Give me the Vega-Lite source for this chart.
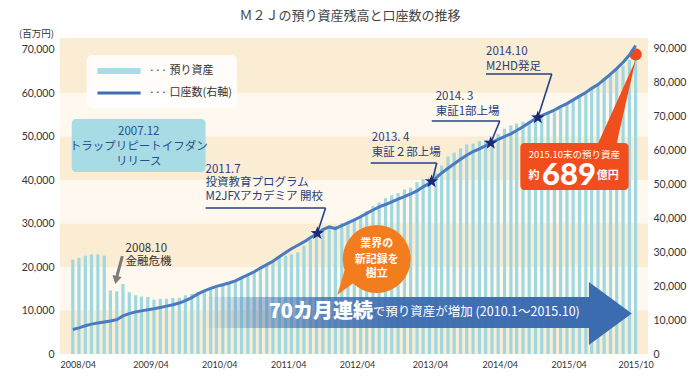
{
  "$schema": "https://vega.github.io/schema/vega-lite/v6.json",
  "width": 588,
  "height": 316,
  "autosize": {"type": "none"},
  "padding": {"left": 60, "top": 38, "right": 52, "bottom": 22},
  "background": "#ffffff",
  "title": {"text": "Ｍ２Ｊの預り資産残高と口座数の推移", "fontSize": 13, "fontWeight": "normal", "color": "#444444", "font": "Noto Sans CJK JP", "anchor": "middle", "offset": 5, "dx": -4},
  "config": {"view": {"stroke": null, "fill": "#fef8ee"}, "font": "Noto Sans CJK JP"},
  "datasets": {
    "monthly": [
      {"date":"2008/04/01","assets":21700,"accounts":7200},
      {"date":"2008/05/01","assets":22100,"accounts":7700},
      {"date":"2008/06/01","assets":22600,"accounts":8300},
      {"date":"2008/07/01","assets":22900,"accounts":8800},
      {"date":"2008/08/01","assets":22900,"accounts":9100},
      {"date":"2008/09/01","assets":22600,"accounts":9400},
      {"date":"2008/10/01","assets":14600,"accounts":9700},
      {"date":"2008/11/01","assets":14400,"accounts":10100},
      {"date":"2008/12/01","assets":16100,"accounts":11200},
      {"date":"2009/01/01","assets":14200,"accounts":11900},
      {"date":"2009/02/01","assets":13500,"accounts":12400},
      {"date":"2009/03/01","assets":13200,"accounts":12700},
      {"date":"2009/04/01","assets":13100,"accounts":13000},
      {"date":"2009/05/01","assets":12500,"accounts":13300},
      {"date":"2009/06/01","assets":12700,"accounts":13700},
      {"date":"2009/07/01","assets":12700,"accounts":14100},
      {"date":"2009/08/01","assets":12900,"accounts":14500},
      {"date":"2009/09/01","assets":12900,"accounts":15000},
      {"date":"2009/10/01","assets":13500,"accounts":15700},
      {"date":"2009/11/01","assets":13800,"accounts":16600},
      {"date":"2009/12/01","assets":14200,"accounts":17700},
      {"date":"2010/01/01","assets":14600,"accounts":18600},
      {"date":"2010/02/01","assets":15000,"accounts":19300},
      {"date":"2010/03/01","assets":15200,"accounts":19900},
      {"date":"2010/04/01","assets":15700,"accounts":20400},
      {"date":"2010/05/01","assets":16100,"accounts":20900},
      {"date":"2010/06/01","assets":16500,"accounts":21500},
      {"date":"2010/07/01","assets":17300,"accounts":22400},
      {"date":"2010/08/01","assets":17800,"accounts":23300},
      {"date":"2010/09/01","assets":18800,"accounts":24200},
      {"date":"2010/10/01","assets":19600,"accounts":25300},
      {"date":"2010/11/01","assets":20700,"accounts":26300},
      {"date":"2010/12/01","assets":21500,"accounts":27300},
      {"date":"2011/01/01","assets":22400,"accounts":28600},
      {"date":"2011/02/01","assets":22600,"accounts":29900},
      {"date":"2011/03/01","assets":22900,"accounts":31000},
      {"date":"2011/04/01","assets":23400,"accounts":32000},
      {"date":"2011/05/01","assets":24900,"accounts":33000},
      {"date":"2011/06/01","assets":26300,"accounts":34200},
      {"date":"2011/07/01","assets":27200,"accounts":35300},
      {"date":"2011/08/01","assets":28400,"accounts":36600},
      {"date":"2011/09/01","assets":29000,"accounts":37400},
      {"date":"2011/10/01","assets":29500,"accounts":36900},
      {"date":"2011/11/01","assets":30100,"accounts":37800},
      {"date":"2011/12/01","assets":30500,"accounts":38600},
      {"date":"2012/01/01","assets":30900,"accounts":39500},
      {"date":"2012/02/01","assets":31800,"accounts":40400},
      {"date":"2012/03/01","assets":32800,"accounts":41400},
      {"date":"2012/04/01","assets":34000,"accounts":42400},
      {"date":"2012/05/01","assets":34800,"accounts":43300},
      {"date":"2012/06/01","assets":35800,"accounts":44000},
      {"date":"2012/07/01","assets":36500,"accounts":44800},
      {"date":"2012/08/01","assets":37000,"accounts":45600},
      {"date":"2012/09/01","assets":37800,"accounts":46300},
      {"date":"2012/10/01","assets":38200,"accounts":47100},
      {"date":"2012/11/01","assets":39500,"accounts":48000},
      {"date":"2012/12/01","assets":40200,"accounts":49200},
      {"date":"2013/01/01","assets":40500,"accounts":50300},
      {"date":"2013/02/01","assets":41600,"accounts":51800},
      {"date":"2013/03/01","assets":43300,"accounts":53300},
      {"date":"2013/04/01","assets":45400,"accounts":54700},
      {"date":"2013/05/01","assets":46300,"accounts":56000},
      {"date":"2013/06/01","assets":47300,"accounts":57300},
      {"date":"2013/07/01","assets":48200,"accounts":58500},
      {"date":"2013/08/01","assets":48400,"accounts":59600},
      {"date":"2013/09/01","assets":49000,"accounts":60400},
      {"date":"2013/10/01","assets":49200,"accounts":61300},
      {"date":"2013/11/01","assets":49600,"accounts":62200},
      {"date":"2013/12/01","assets":50600,"accounts":63200},
      {"date":"2014/01/01","assets":51800,"accounts":64000},
      {"date":"2014/02/01","assets":52600,"accounts":64800},
      {"date":"2014/03/01","assets":53000,"accounts":65800},
      {"date":"2014/04/01","assets":53400,"accounts":66900},
      {"date":"2014/05/01","assets":53600,"accounts":68100},
      {"date":"2014/06/01","assets":54100,"accounts":69300},
      {"date":"2014/07/01","assets":54600,"accounts":70200},
      {"date":"2014/08/01","assets":55300,"accounts":71000},
      {"date":"2014/09/01","assets":55600,"accounts":71800},
      {"date":"2014/10/01","assets":56800,"accounts":72800},
      {"date":"2014/11/01","assets":57900,"accounts":73700},
      {"date":"2014/12/01","assets":58500,"accounts":74800},
      {"date":"2015/01/01","assets":59200,"accounts":75900},
      {"date":"2015/02/01","assets":59800,"accounts":77000},
      {"date":"2015/03/01","assets":61000,"accounts":78200},
      {"date":"2015/04/01","assets":61800,"accounts":79300},
      {"date":"2015/05/01","assets":63400,"accounts":80800},
      {"date":"2015/06/01","assets":64500,"accounts":82400},
      {"date":"2015/07/01","assets":65500,"accounts":84000},
      {"date":"2015/08/01","assets":66300,"accounts":85900},
      {"date":"2015/09/01","assets":67600,"accounts":88000},
      {"date":"2015/10/01","assets":68900,"accounts":90800}
    ],
    "bands": [
      {"lo":0,"hi":10000},{"lo":20000,"hi":30000},{"lo":40000,"hi":50000},{"lo":60000,"hi":72660}
    ],
    "tealbox": [{"date":"2008/03/27","end":"2010/01/07","v":54030,"v2":41840}],
    "legendbox": [{"date":"2008/06/07","end":"2010/06/09","v":68740,"v2":56560}],
    "legendkeys": [
      {"date":"2008/07/30","end":"2009/02/25","v":65060,"series":"預り資産"},
      {"date":"2008/07/30","end":"2009/02/25","v":60000,"series":"口座数"}
    ],
    "bigarrow": [{"date":"2009/12/24","end":"2015/02/27","v":13100,"v2":5980}],
    "arrowhead": [{"date":"2015/05/31","v":9310}],
    "bubble": [{"date":"2012/04/19","v":21840}],
    "bubbletail": [{"date":"2011/11/25","v":16670}],
    "callout": [{"date":"2014/03/19","end":"2015/08/28","v":48510,"v2":37700}],
    "callouttail": [{"date":"2015/07/23","v":57700}],
    "lastpoint": [{"date":"2015/10/01","v":68900}],
    "crisisarrow": [{"date":"2008/11/28","end":"2008/11/02","v":22530,"v2":17930}],
    "crisishead": [{"date":"2008/10/29","v":17010}],
    "leaders": [
      {"date":"2010/01/07","end":"2011/08/14","v":33570,"v2":33570},
      {"date":"2011/08/14","end":"2011/07/07","v":33570,"v2":28050},
      {"date":"2012/03/21","end":"2013/02/05","v":43910,"v2":43910},
      {"date":"2013/02/05","end":"2013/01/12","v":43910,"v2":39310},
      {"date":"2013/01/12","end":"2013/12/09","v":53570,"v2":53570},
      {"date":"2013/12/09","end":"2013/10/26","v":53570,"v2":48510},
      {"date":"2013/10/03","end":"2014/08/19","v":64370,"v2":64370},
      {"date":"2014/08/19","end":"2014/06/13","v":64370,"v2":54490}
    ],
    "stars": [
      {"date":"2011/07/05","v":35500},
      {"date":"2013/01/11","v":50800},
      {"date":"2013/10/26","v":62100},
      {"date":"2014/06/12","v":69600}
    ],
    "notes": [
      {"date":"2010/01/07","v":42300,"text":"2011.7","kind":"event"},
      {"date":"2010/01/07","v":39310,"text":"投資教育プログラム","kind":"event"},
      {"date":"2010/01/07","v":36090,"text":"M2JFXアカデミア 開校","kind":"event"},
      {"date":"2012/03/26","v":49660,"text":"2013. 4","kind":"event"},
      {"date":"2012/03/26","v":46210,"text":"東証２部上場","kind":"event"},
      {"date":"2013/01/31","v":59080,"text":"2014. 3","kind":"event"},
      {"date":"2013/01/31","v":55640,"text":"東証1部上場","kind":"event"},
      {"date":"2013/10/03","v":69430,"text":"2014.10","kind":"event"},
      {"date":"2013/10/03","v":65980,"text":"M2HD発足","kind":"event"},
      {"date":"2008/12/14","v":24140,"text":"2008.10","kind":"crisis"},
      {"date":"2008/12/14","v":21150,"text":"金融危機","kind":"crisis"},
      {"date":"2009/02/16","v":51040,"text":"2007.12","kind":"teal"},
      {"date":"2009/02/16","v":47590,"text":"トラップリピートイフダン","kind":"teal"},
      {"date":"2009/02/16","v":44140,"text":"リリース","kind":"teal"},
      {"date":"2009/04/05","v":65060,"text":"··· 預り資産","kind":"legend"},
      {"date":"2009/04/05","v":60000,"text":"··· 口座数(右軸)","kind":"legend"},
      {"date":"2012/04/19","v":25290,"text":"業界の","kind":"bubble"},
      {"date":"2012/04/19","v":21610,"text":"新記録を","kind":"bubble"},
      {"date":"2012/04/19","v":18390,"text":"樹立","kind":"bubble"},
      {"date":"2010/11/10","v":9660,"text":"70カ月連続","kind":"arrowbig"},
      {"date":"2012/03/31","v":9660,"text":"で預り資産が増加 (2010.1〜2015.10)","kind":"arrowsmall"},
      {"date":"2014/12/07","v":45750,"text":"2015.10末の預り資産","kind":"callsmall"},
      {"date":"2014/05/24","v":40920,"text":"約","kind":"callunit"},
      {"date":"2015/05/19","v":40920,"text":"億円","kind":"callunit"},
      {"date":"2014/11/11","v":40920,"text":"689","kind":"callbig"}
    ]
  },
  "layer": [
    {
      "layer": [
        {
          "data": {"name": "bands"},
          "mark": {"type": "rect", "color": "#fbecd4"},
          "encoding": {
            "y": {"field": "lo", "type": "quantitative", "scale": {"domain": [0, 72660], "nice": false}},
            "y2": {"field": "hi"}
          }
        },
        {
          "data": {"name": "monthly"},
          "mark": {"type": "bar", "color": "#9fd8e1", "width": 3.2},
          "encoding": {
            "x": {"field": "date", "type": "temporal", "scale": {"domain": [{"year":2008,"month":2,"date":23},{"year":2015,"month":11,"date":6}], "nice": false},
              "axis": {
                "values": [{"year":2008,"month":4,"date":25},{"year":2009,"month":4,"date":14},{"year":2010,"month":3,"date":15},{"year":2011,"month":2,"date":13},{"year":2012,"month":1,"date":14},{"year":2013,"month":1,"date":3},{"year":2013,"month":12,"date":9},{"year":2014,"month":11,"date":9},{"year":2015,"month":10,"date":1}],
                "labelExpr": "year(datum.value) == 2008 ? '2008/04' : year(datum.value) == 2009 ? '2009/04' : year(datum.value) == 2010 ? '2010/04' : year(datum.value) == 2011 ? '2011/04' : year(datum.value) == 2012 ? '2012/04' : month(datum.value) == 0 ? '2013/04' : year(datum.value) == 2013 ? '2014/04' : year(datum.value) == 2014 ? '2015/04' : '2015/10'",
                "title": null, "ticks": false, "domain": false, "grid": false,
                "labelFontSize": 9, "labelColor": "#333333", "labelPadding": 6, "labelOverlap": false, "labelFlush": false, "labelFont": "Lato"
              }
            },
            "y": {"field": "assets", "type": "quantitative", "scale": {"domain": [0, 72660], "nice": false},
              "axis": {
                "values": [0,10000,20000,30000,40000,50000,60000,70000], "labelExpr": "format(datum.value, ',')",
                "title": "(百万円)", "titleAngle": 0, "titleX": -24, "titleY": -5, "titleAlign": "center", "titleBaseline": "middle",
                "titleFontSize": 9.5, "titleFontWeight": "normal", "titleColor": "#333333", "titleFont": "Noto Sans CJK JP",
                "ticks": false, "domain": false, "grid": false,
                "labelFontSize": 10.5, "labelColor": "#333333", "labelPadding": 6, "labelFont": "Lato"
              }
            }
          }
        },
        {
          "data": {"name": "tealbox"},
          "mark": {"type": "rect", "color": "#a7dce5", "cornerRadius": 4},
          "encoding": {
            "x": {"field": "date", "type": "temporal", "scale": {"domain": [{"year":2008,"month":2,"date":23},{"year":2015,"month":11,"date":6}], "nice": false}},
            "x2": {"field": "end"},
            "y": {"field": "v", "type": "quantitative", "scale": {"domain": [0, 72660], "nice": false}},
            "y2": {"field": "v2"}
          }
        },
        {
          "data": {"name": "legendbox"},
          "mark": {"type": "rect", "color": "#ffffff", "opacity": 0.85, "cornerRadius": 6},
          "encoding": {
            "x": {"field": "date", "type": "temporal", "scale": {"domain": [{"year":2008,"month":2,"date":23},{"year":2015,"month":11,"date":6}], "nice": false}},
            "x2": {"field": "end"},
            "y": {"field": "v", "type": "quantitative", "scale": {"domain": [0, 72660], "nice": false}},
            "y2": {"field": "v2"}
          }
        },
        {
          "data": {"name": "legendkeys"},
          "transform": [{"filter": "datum.series == '預り資産'"}],
          "mark": {"type": "rule", "color": "#a8dde6", "strokeWidth": 6},
          "encoding": {
            "x": {"field": "date", "type": "temporal", "scale": {"domain": [{"year":2008,"month":2,"date":23},{"year":2015,"month":11,"date":6}], "nice": false}},
            "x2": {"field": "end"},
            "y": {"field": "v", "type": "quantitative", "scale": {"domain": [0, 72660], "nice": false}}
          }
        },
        {
          "data": {"name": "legendkeys"},
          "transform": [{"filter": "datum.series == '口座数'"}],
          "mark": {"type": "rule", "color": "#3f6fb2", "strokeWidth": 3},
          "encoding": {
            "x": {"field": "date", "type": "temporal", "scale": {"domain": [{"year":2008,"month":2,"date":23},{"year":2015,"month":11,"date":6}], "nice": false}},
            "x2": {"field": "end"},
            "y": {"field": "v", "type": "quantitative", "scale": {"domain": [0, 72660], "nice": false}}
          }
        },
        {
          "data": {"name": "bigarrow"},
          "mark": {"type": "rect", "color": {"gradient": "linear", "x1": 0, "x2": 1, "y1": 0, "y2": 0, "stops": [
            {"offset": 0, "color": "rgba(60,108,176,0)"},
            {"offset": 0.12, "color": "rgba(60,108,176,0.35)"},
            {"offset": 0.3, "color": "rgba(60,108,176,0.75)"},
            {"offset": 0.5, "color": "rgba(60,108,176,0.95)"},
            {"offset": 1, "color": "rgba(60,108,176,1)"}
          ]}},
          "encoding": {
            "x": {"field": "date", "type": "temporal", "scale": {"domain": [{"year":2008,"month":2,"date":23},{"year":2015,"month":11,"date":6}], "nice": false}},
            "x2": {"field": "end"},
            "y": {"field": "v", "type": "quantitative", "scale": {"domain": [0, 72660], "nice": false}},
            "y2": {"field": "v2"}
          }
        },
        {
          "data": {"name": "arrowhead"},
          "mark": {"type": "point", "shape": "M-0.68,-1L0.68,0L-0.68,1Z", "size": 3969, "filled": true, "opacity": 1, "color": "#3c6cb0", "strokeWidth": 0},
          "encoding": {
            "x": {"field": "date", "type": "temporal", "scale": {"domain": [{"year":2008,"month":2,"date":23},{"year":2015,"month":11,"date":6}], "nice": false}},
            "y": {"field": "v", "type": "quantitative", "scale": {"domain": [0, 72660], "nice": false}}
          }
        },
        {
          "data": {"name": "bubbletail"},
          "mark": {"type": "point", "shape": "M-0.67,1L0.67,1L0,-1Z", "size": 1089, "angle": 215, "filled": true, "opacity": 1, "color": "#f27c1e", "strokeWidth": 0},
          "encoding": {
            "x": {"field": "date", "type": "temporal", "scale": {"domain": [{"year":2008,"month":2,"date":23},{"year":2015,"month":11,"date":6}], "nice": false}},
            "y": {"field": "v", "type": "quantitative", "scale": {"domain": [0, 72660], "nice": false}}
          }
        },
        {
          "data": {"name": "bubble"},
          "mark": {"type": "point", "shape": "circle", "size": 4624, "filled": true, "opacity": 1, "color": "#f27c1e", "strokeWidth": 0},
          "encoding": {
            "x": {"field": "date", "type": "temporal", "scale": {"domain": [{"year":2008,"month":2,"date":23},{"year":2015,"month":11,"date":6}], "nice": false}},
            "y": {"field": "v", "type": "quantitative", "scale": {"domain": [0, 72660], "nice": false}}
          }
        },
        {
          "data": {"name": "callouttail"},
          "mark": {"type": "point", "shape": "M-0.2,1L0.2,1L0,-1Z", "size": 8245, "angle": 18.6, "filled": true, "opacity": 1, "color": "#f04e1c", "strokeWidth": 0},
          "encoding": {
            "x": {"field": "date", "type": "temporal", "scale": {"domain": [{"year":2008,"month":2,"date":23},{"year":2015,"month":11,"date":6}], "nice": false}},
            "y": {"field": "v", "type": "quantitative", "scale": {"domain": [0, 72660], "nice": false}}
          }
        },
        {
          "data": {"name": "callout"},
          "mark": {"type": "rect", "color": "#f04e1c", "cornerRadius": 4},
          "encoding": {
            "x": {"field": "date", "type": "temporal", "scale": {"domain": [{"year":2008,"month":2,"date":23},{"year":2015,"month":11,"date":6}], "nice": false}},
            "x2": {"field": "end"},
            "y": {"field": "v", "type": "quantitative", "scale": {"domain": [0, 72660], "nice": false}},
            "y2": {"field": "v2"}
          }
        },
        {
          "data": {"name": "lastpoint"},
          "mark": {"type": "point", "shape": "circle", "size": 150, "filled": true, "opacity": 1, "color": "#f04a1c", "strokeWidth": 0},
          "encoding": {
            "x": {"field": "date", "type": "temporal", "scale": {"domain": [{"year":2008,"month":2,"date":23},{"year":2015,"month":11,"date":6}], "nice": false}},
            "y": {"field": "v", "type": "quantitative", "scale": {"domain": [0, 72660], "nice": false}}
          }
        },
        {
          "data": {"name": "crisisarrow"},
          "mark": {"type": "rule", "color": "#7b7b7b", "strokeWidth": 3},
          "encoding": {
            "x": {"field": "date", "type": "temporal", "scale": {"domain": [{"year":2008,"month":2,"date":23},{"year":2015,"month":11,"date":6}], "nice": false}},
            "x2": {"field": "end"},
            "y": {"field": "v", "type": "quantitative", "scale": {"domain": [0, 72660], "nice": false}},
            "y2": {"field": "v2"}
          }
        },
        {
          "data": {"name": "crisishead"},
          "mark": {"type": "point", "shape": "triangle-down", "size": 90, "angle": 13, "filled": true, "opacity": 1, "color": "#7b7b7b", "strokeWidth": 0},
          "encoding": {
            "x": {"field": "date", "type": "temporal", "scale": {"domain": [{"year":2008,"month":2,"date":23},{"year":2015,"month":11,"date":6}], "nice": false}},
            "y": {"field": "v", "type": "quantitative", "scale": {"domain": [0, 72660], "nice": false}}
          }
        },
        {
          "data": {"name": "leaders"},
          "mark": {"type": "rule", "color": "#22408a", "strokeWidth": 1.6},
          "encoding": {
            "x": {"field": "date", "type": "temporal", "scale": {"domain": [{"year":2008,"month":2,"date":23},{"year":2015,"month":11,"date":6}], "nice": false}},
            "x2": {"field": "end"},
            "y": {"field": "v", "type": "quantitative", "scale": {"domain": [0, 72660], "nice": false}},
            "y2": {"field": "v2"}
          }
        },
        {
          "data": {"name": "notes"},
          "transform": [{"filter": "datum.kind == 'event'"}],
          "mark": {"type": "text", "align": "left", "baseline": "middle", "fontSize": 11.5, "color": "#2a3d7c"},
          "encoding": {
            "x": {"field": "date", "type": "temporal", "scale": {"domain": [{"year":2008,"month":2,"date":23},{"year":2015,"month":11,"date":6}], "nice": false}},
            "y": {"field": "v", "type": "quantitative", "scale": {"domain": [0, 72660], "nice": false}},
            "text": {"field": "text"}
          }
        },
        {
          "data": {"name": "notes"},
          "transform": [{"filter": "datum.kind == 'crisis'"}],
          "mark": {"type": "text", "align": "left", "baseline": "middle", "fontSize": 11.5, "color": "#333333"},
          "encoding": {
            "x": {"field": "date", "type": "temporal", "scale": {"domain": [{"year":2008,"month":2,"date":23},{"year":2015,"month":11,"date":6}], "nice": false}},
            "y": {"field": "v", "type": "quantitative", "scale": {"domain": [0, 72660], "nice": false}},
            "text": {"field": "text"}
          }
        },
        {
          "data": {"name": "notes"},
          "transform": [{"filter": "datum.kind == 'teal'"}],
          "mark": {"type": "text", "align": "center", "baseline": "middle", "fontSize": 11.5, "color": "#2c4d8e"},
          "encoding": {
            "x": {"field": "date", "type": "temporal", "scale": {"domain": [{"year":2008,"month":2,"date":23},{"year":2015,"month":11,"date":6}], "nice": false}},
            "y": {"field": "v", "type": "quantitative", "scale": {"domain": [0, 72660], "nice": false}},
            "text": {"field": "text"}
          }
        },
        {
          "data": {"name": "notes"},
          "transform": [{"filter": "datum.kind == 'legend'"}],
          "mark": {"type": "text", "align": "left", "baseline": "middle", "fontSize": 11, "color": "#333333"},
          "encoding": {
            "x": {"field": "date", "type": "temporal", "scale": {"domain": [{"year":2008,"month":2,"date":23},{"year":2015,"month":11,"date":6}], "nice": false}},
            "y": {"field": "v", "type": "quantitative", "scale": {"domain": [0, 72660], "nice": false}},
            "text": {"field": "text"}
          }
        },
        {
          "data": {"name": "notes"},
          "transform": [{"filter": "datum.kind == 'bubble'"}],
          "mark": {"type": "text", "align": "center", "baseline": "middle", "fontSize": 11, "fontWeight": "bold", "color": "#ffffff"},
          "encoding": {
            "x": {"field": "date", "type": "temporal", "scale": {"domain": [{"year":2008,"month":2,"date":23},{"year":2015,"month":11,"date":6}], "nice": false}},
            "y": {"field": "v", "type": "quantitative", "scale": {"domain": [0, 72660], "nice": false}},
            "text": {"field": "text"}
          }
        },
        {
          "data": {"name": "notes"},
          "transform": [{"filter": "datum.kind == 'arrowbig'"}],
          "mark": {"type": "text", "align": "left", "baseline": "middle", "fontSize": 20, "fontWeight": 900, "color": "#ffffff"},
          "encoding": {
            "x": {"field": "date", "type": "temporal", "scale": {"domain": [{"year":2008,"month":2,"date":23},{"year":2015,"month":11,"date":6}], "nice": false}},
            "y": {"field": "v", "type": "quantitative", "scale": {"domain": [0, 72660], "nice": false}},
            "text": {"field": "text"}
          }
        },
        {
          "data": {"name": "notes"},
          "transform": [{"filter": "datum.kind == 'arrowsmall'"}],
          "mark": {"type": "text", "align": "left", "baseline": "middle", "fontSize": 12.5, "color": "#ffffff"},
          "encoding": {
            "x": {"field": "date", "type": "temporal", "scale": {"domain": [{"year":2008,"month":2,"date":23},{"year":2015,"month":11,"date":6}], "nice": false}},
            "y": {"field": "v", "type": "quantitative", "scale": {"domain": [0, 72660], "nice": false}},
            "text": {"field": "text"}
          }
        },
        {
          "data": {"name": "notes"},
          "transform": [{"filter": "datum.kind == 'callsmall'"}],
          "mark": {"type": "text", "align": "center", "baseline": "middle", "fontSize": 9.5, "color": "#ffffff"},
          "encoding": {
            "x": {"field": "date", "type": "temporal", "scale": {"domain": [{"year":2008,"month":2,"date":23},{"year":2015,"month":11,"date":6}], "nice": false}},
            "y": {"field": "v", "type": "quantitative", "scale": {"domain": [0, 72660], "nice": false}},
            "text": {"field": "text"}
          }
        },
        {
          "data": {"name": "notes"},
          "transform": [{"filter": "datum.kind == 'callunit'"}],
          "mark": {"type": "text", "align": "center", "baseline": "middle", "fontSize": 11, "fontWeight": "bold", "color": "#ffffff"},
          "encoding": {
            "x": {"field": "date", "type": "temporal", "scale": {"domain": [{"year":2008,"month":2,"date":23},{"year":2015,"month":11,"date":6}], "nice": false}},
            "y": {"field": "v", "type": "quantitative", "scale": {"domain": [0, 72660], "nice": false}},
            "text": {"field": "text"}
          }
        },
        {
          "data": {"name": "notes"},
          "transform": [{"filter": "datum.kind == 'callbig'"}],
          "mark": {"type": "text", "align": "center", "baseline": "middle", "fontSize": 31, "fontWeight": 900, "font": "Lato", "color": "#ffffff"},
          "encoding": {
            "x": {"field": "date", "type": "temporal", "scale": {"domain": [{"year":2008,"month":2,"date":23},{"year":2015,"month":11,"date":6}], "nice": false}},
            "y": {"field": "v", "type": "quantitative", "scale": {"domain": [0, 72660], "nice": false}},
            "text": {"field": "text"}
          }
        }
      ]
    },
    {
      "layer": [
        {
          "data": {"name": "monthly"},
          "mark": {"type": "line", "color": "#4a7bbf", "strokeWidth": 3},
          "encoding": {
            "x": {"field": "date", "type": "temporal", "scale": {"domain": [{"year":2008,"month":2,"date":23},{"year":2015,"month":11,"date":6}], "nice": false}},
            "y": {"field": "accounts", "type": "quantitative", "scale": {"domain": [0, 93020], "nice": false},
              "axis": {
                "orient": "right", "values": [0,10000,20000,30000,40000,50000,60000,70000,80000,90000], "labelExpr": "format(datum.value, ',')",
                "title": null, "ticks": false, "domain": false, "grid": false,
                "labelFontSize": 10.5, "labelColor": "#333333", "labelPadding": 5, "labelFont": "Lato"
              }
            }
          }
        },
        {
          "data": {"name": "stars"},
          "mark": {"type": "point", "shape": "M0,-1L0.235,-0.324L0.951,-0.309L0.38,0.124L0.588,0.809L0,0.4L-0.588,0.809L-0.38,0.124L-0.951,-0.309L-0.235,-0.324Z", "size": 200, "filled": true, "opacity": 1, "color": "#1b2a78", "strokeWidth": 0},
          "encoding": {
            "x": {"field": "date", "type": "temporal", "scale": {"domain": [{"year":2008,"month":2,"date":23},{"year":2015,"month":11,"date":6}], "nice": false}},
            "y": {"field": "v", "type": "quantitative", "scale": {"domain": [0, 93020], "nice": false},
              "axis": {
                "orient": "right", "values": [0,10000,20000,30000,40000,50000,60000,70000,80000,90000], "labelExpr": "format(datum.value, ',')",
                "title": null, "ticks": false, "domain": false, "grid": false,
                "labelFontSize": 10.5, "labelColor": "#333333", "labelPadding": 5, "labelFont": "Lato"
              }
            }
          }
        }
      ]
    }
  ],
  "resolve": {"scale": {"y": "independent"}}
}
